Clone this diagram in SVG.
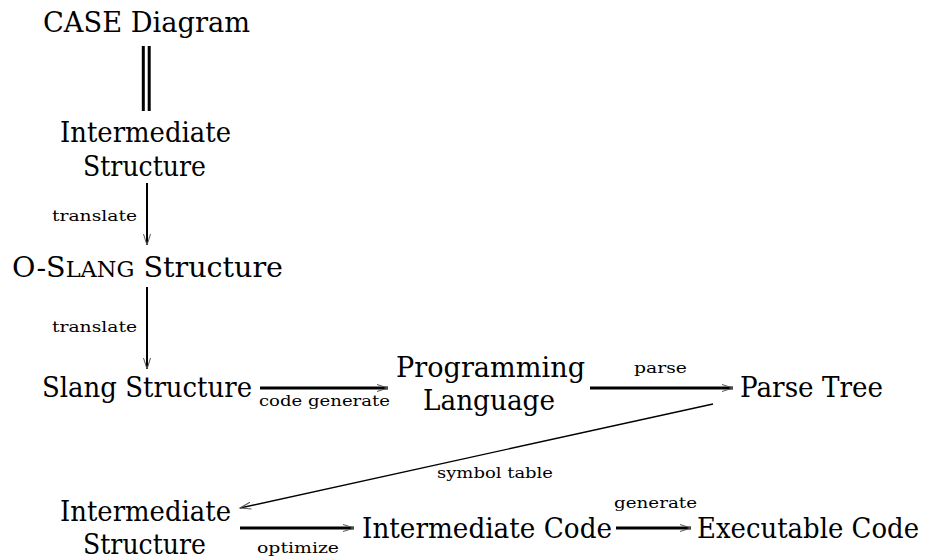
<svg xmlns="http://www.w3.org/2000/svg" width="928" height="558" viewBox="0 0 928 558">
<style>
.t{font-family:"DejaVu Serif","Liberation Serif","Times New Roman",serif;font-size:28px;fill:#000}
.s{font-family:"DejaVu Serif","Liberation Serif","Times New Roman",serif;font-size:15px;fill:#000}
.sc{font-size:22px}
.thick{stroke:#000;stroke-width:3;fill:none}
.med{stroke:#000;stroke-width:2;fill:none}
.thin{stroke:#000;stroke-width:1.4;fill:none}
</style>
<defs>
<marker id="ah" markerUnits="userSpaceOnUse" markerWidth="14" markerHeight="10" viewBox="-12 -5 14 10" refX="0" refY="0" orient="auto">
<path d="M-11,-3.5 L0,0 L-11,3.5" fill="none" stroke="#555" stroke-width="1"/>
</marker>
</defs>
<rect width="928" height="558" fill="#fff"/>
<g id="n-case"><text class="t" x="43" y="32" textLength="207" lengthAdjust="spacingAndGlyphs">CASE Diagram</text></g>
<g id="n-inter1"><text class="t" x="60" y="142" textLength="171" lengthAdjust="spacingAndGlyphs">Intermediate</text><text class="t" x="83" y="176" textLength="123" lengthAdjust="spacingAndGlyphs">Structure</text></g>
<g id="n-oslang"><text class="t" x="12" y="277" textLength="271" lengthAdjust="spacingAndGlyphs">O-S<tspan class="sc">LANG</tspan> Structure</text></g>
<g id="n-slang"><text class="t" x="42" y="397" textLength="210" lengthAdjust="spacingAndGlyphs">Slang Structure</text></g>
<g id="n-prog"><text class="t" x="396" y="377" textLength="189" lengthAdjust="spacingAndGlyphs">Programming</text><text class="t" x="423" y="410" textLength="132" lengthAdjust="spacingAndGlyphs">Language</text></g>
<g id="n-parse"><text class="t" x="740" y="397" textLength="143" lengthAdjust="spacingAndGlyphs">Parse Tree</text></g>
<g id="n-inter2"><text class="t" x="60" y="521" textLength="171" lengthAdjust="spacingAndGlyphs">Intermediate</text><text class="t" x="83" y="554" textLength="123" lengthAdjust="spacingAndGlyphs">Structure</text></g>
<g id="n-icode"><text class="t" x="362" y="538" textLength="250" lengthAdjust="spacingAndGlyphs">Intermediate Code</text></g>
<g id="n-exec"><text class="t" x="697" y="538" textLength="222" lengthAdjust="spacingAndGlyphs">Executable Code</text></g>
<g id="connectors">
<line class="thick" x1="143.3" y1="46" x2="143.3" y2="111"/>
<line class="thick" x1="149.2" y1="46" x2="149.2" y2="111"/>
<line class="med" x1="147" y1="183" x2="147" y2="245" marker-end="url(#ah)"/>
<text class="s" x="52" y="221" textLength="85" lengthAdjust="spacingAndGlyphs">translate</text>
<line class="med" x1="147" y1="287" x2="147" y2="369" marker-end="url(#ah)"/>
<text class="s" x="52" y="332" textLength="85" lengthAdjust="spacingAndGlyphs">translate</text>
<line class="thick" x1="260" y1="388" x2="388" y2="388" marker-end="url(#ah)"/>
<text class="s" x="259" y="406" textLength="131" lengthAdjust="spacingAndGlyphs">code generate</text>
<line class="thick" x1="590" y1="388" x2="733" y2="388" marker-end="url(#ah)"/>
<text class="s" x="634" y="373" textLength="53" lengthAdjust="spacingAndGlyphs">parse</text>
<line class="thin" x1="713" y1="404" x2="240" y2="508" marker-end="url(#ah)"/>
<text class="s" x="437" y="478" textLength="116" lengthAdjust="spacingAndGlyphs">symbol table</text>
<line class="thick" x1="240" y1="528" x2="354" y2="528" marker-end="url(#ah)"/>
<text class="s" x="257" y="553" textLength="82" lengthAdjust="spacingAndGlyphs">optimize</text>
<line class="thick" x1="616" y1="528" x2="691" y2="528" marker-end="url(#ah)"/>
<text class="s" x="614" y="508" textLength="83" lengthAdjust="spacingAndGlyphs">generate</text>
</g>
</svg>
